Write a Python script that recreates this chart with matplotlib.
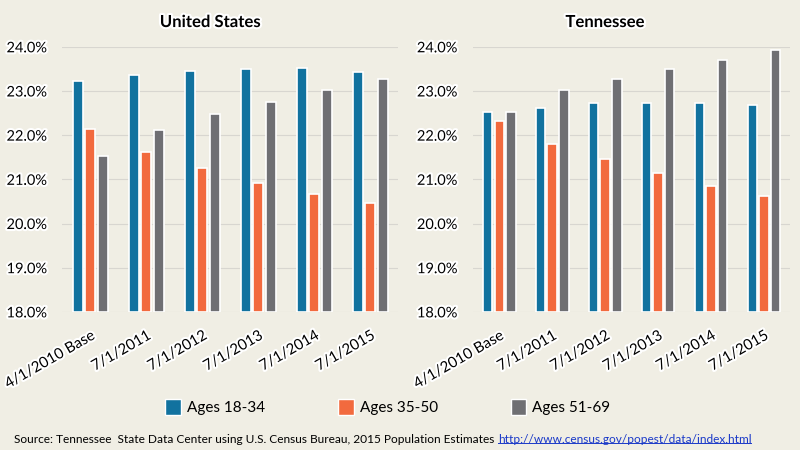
import numpy as np
import matplotlib
matplotlib.use('Agg')
import matplotlib.pyplot as plt
import matplotlib.patheffects as pe
from matplotlib.patches import Patch

plt.rcParams['font.family'] = ['Lato', 'DejaVu Sans']

CATEGORIES = ['4/1/2010 Base', '7/1/2011', '7/1/2012', '7/1/2013', '7/1/2014', '7/1/2015']
SERIES = ['Ages 18-34', 'Ages 35-50', 'Ages 51-69']

US_18_34 = [23.22, 23.36, 23.45, 23.50, 23.51, 23.44]
US_35_50 = [22.14, 21.62, 21.26, 20.92, 20.66, 20.46]
US_51_69 = [21.53, 22.12, 22.49, 22.76, 23.02, 23.27]

TN_18_34 = [22.52, 22.61, 22.73, 22.72, 22.73, 22.69]
TN_35_50 = [22.32, 21.81, 21.45, 21.15, 20.85, 20.62]
TN_51_69 = [22.52, 23.03, 23.28, 23.49, 23.71, 23.92]

YTICKS = [18, 19, 20, 21, 22, 23, 24]
COLORS = ['#11729f', '#f26a3e', '#6f6f73']
BG = '#f0eee4'
glow = [pe.withStroke(linewidth=3, foreground='white')]

fig = plt.figure(figsize=(8, 4.5), dpi=100, facecolor=BG)
ax_us = fig.add_axes([0.078, 0.307, 0.42, 0.589])
ax_tn = fig.add_axes([0.591, 0.307, 0.397, 0.589])

panels = [
    [ax_us, 'United States', [US_18_34, US_35_50, US_51_69], 0.2625],
    [ax_tn, 'Tennessee', [TN_18_34, TN_35_50, TN_51_69], 0.756],
]

x = np.arange(len(CATEGORIES))
w = 0.18
step = 0.22
for ax, title, data, tx in panels:
    ax.set_facecolor(BG)
    for i, vals in enumerate(data):
        ax.bar(x + (i - 1) * step, np.array(vals) - 18, bottom=18, width=w,
               color=COLORS[i], edgecolor='white', linewidth=1.2, zorder=3)
    ax.set_ylim(18, 24)
    ax.set_xlim(-0.5, len(CATEGORIES) - 0.5)
    ax.set_yticks(YTICKS)
    ax.set_yticklabels(['%.1f%%' % v for v in YTICKS], fontsize=10.5,
                       path_effects=glow)
    ax.set_xticks(x)
    ax.set_xticklabels(CATEGORIES, rotation=30, ha='right', rotation_mode='anchor',
                       fontsize=10.8, path_effects=glow)
    ax.tick_params(axis='x', length=0, pad=12)
    ax.tick_params(axis='y', length=0, pad=11)
    ax.grid(axis='y', color='#d8d6d0', linewidth=0.8, zorder=0)
    for s in ax.spines.values():
        s.set_visible(False)
    fig.text(tx, 0.951, title, fontsize=12, fontweight='bold',
             ha='center', va='center', path_effects=glow)

handles = [Patch(facecolor=c, edgecolor='white', linewidth=1) for c in COLORS]
fig.legend(handles, SERIES, loc='center', bbox_to_anchor=(0.485, 0.095), ncol=3,
           frameon=False, fontsize=11, columnspacing=4.8, handlelength=1.0,
           handleheight=1.2, handletextpad=0.4)

src = fig.text(0.018, 0.012, 'Source: Tennessee  State Data Center using U.S. Census Bureau, 2015 Population Estimates ',
               fontsize=8.6, ha='left', va='bottom')
fig.canvas.draw()
bb = src.get_window_extent().transformed(fig.transFigure.inverted())
link = fig.text(bb.x1, 0.012, 'http://www.census.gov/popest/data/index.html',
                fontsize=8.6, ha='left', va='bottom', color='#1a39c8')
fig.canvas.draw()
lb = link.get_window_extent().transformed(fig.transFigure.inverted())
fig.add_artist(plt.Line2D([lb.x0, lb.x1], [lb.y0 + 0.004, lb.y0 + 0.004],
                          color='#1a39c8', linewidth=0.7, transform=fig.transFigure))

fig.savefig('out.png', dpi=100, facecolor=BG)
